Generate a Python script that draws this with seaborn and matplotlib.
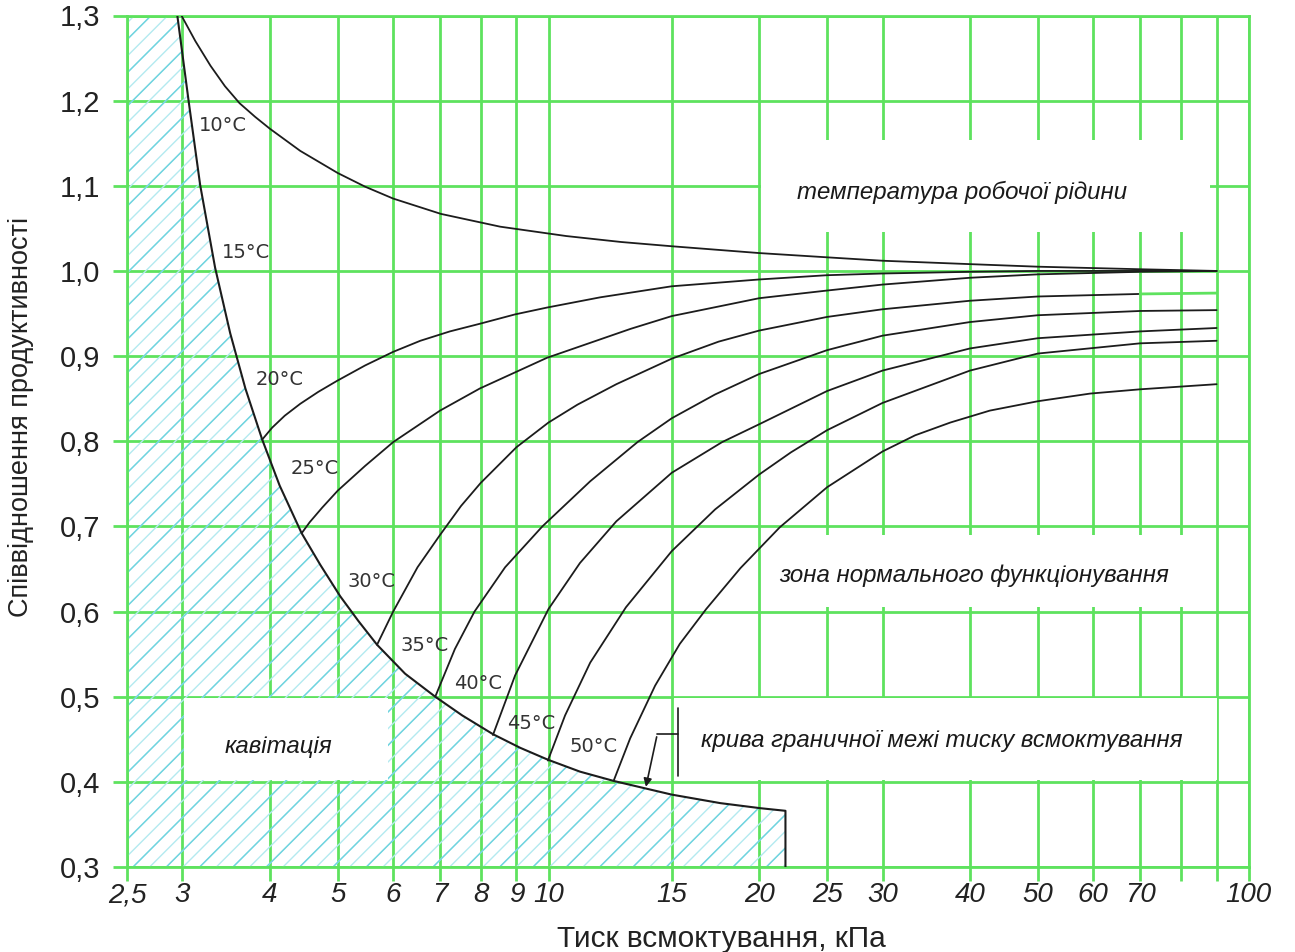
import numpy as np
import pandas as pd
import matplotlib
matplotlib.use("Agg")
import matplotlib.pyplot as plt
import seaborn as sns
from matplotlib.patches import Rectangle
from matplotlib.ticker import FixedLocator, FixedFormatter, NullLocator

# ---------------- data ----------------
x_ticks = [2.5, 3, 4, 5, 6, 7, 8, 9, 10, 15, 20, 25, 30, 40, 50, 60, 70, 80, 90, 100]
x_tick_labels = ["2,5", "3", "4", "5", "6", "7", "8", "9", "10", "15", "20", "25", "30",
                 "40", "50", "60", "70", "", "", "100"]
y_ticks = [0.3, 0.4, 0.5, 0.6, 0.7, 0.8, 0.9, 1.0, 1.1, 1.2, 1.3]
y_tick_labels = ["0,3", "0,4", "0,5", "0,6", "0,7", "0,8", "0,9", "1,0", "1,1", "1,2", "1,3"]

# suction-pressure limit curve (boundary of the cavitation zone)
boundary_p = [2.95, 3.06, 3.18, 3.34, 3.51, 3.69, 3.90, 4.13, 4.44, 4.72, 5.04, 5.35, 5.69,
              6.24, 6.89, 7.53, 8.33, 9.11, 9.98, 11.09, 12.4, 15.0, 17.6, 20.1, 21.8, 21.8]
boundary_k = [1.300, 1.201, 1.101, 1.004, 0.927, 0.862, 0.802, 0.748, 0.692, 0.655, 0.618,
              0.589, 0.561, 0.527, 0.500, 0.478, 0.456, 0.440, 0.426, 0.412, 0.401, 0.385,
              0.375, 0.369, 0.366, 0.300]

# temperature curves: suction pressure (kPa) and productivity ratio
t10_p = [2.99, 3.13, 3.29, 3.45, 3.62, 3.81, 4.00, 4.42, 5.0, 5.47, 6.0, 7.02, 8.53, 10.6,
         12.7, 15, 20, 25, 30, 40, 50, 70, 90]
t10_k = [1.300, 1.270, 1.241, 1.217, 1.197, 1.181, 1.167, 1.141, 1.115, 1.099, 1.085, 1.067,
         1.052, 1.041, 1.034, 1.029, 1.021, 1.016, 1.012, 1.008, 1.005, 1.002, 1.000]
t20_p = [3.90, 4.03, 4.20, 4.42, 4.69, 4.99, 5.47, 6.0, 6.56, 7.23, 7.98, 8.96, 9.95, 11.85,
         15, 20, 25, 30, 40, 50, 70, 90]
t20_k = [0.802, 0.816, 0.830, 0.844, 0.858, 0.871, 0.889, 0.905, 0.918, 0.929, 0.938, 0.949,
         0.957, 0.969, 0.982, 0.990, 0.995, 0.997, 0.999, 1.000, 1.000, 1.000]
t25_p = [4.44, 4.56, 4.75, 5.0, 5.47, 6.0, 7.0, 7.98, 9.95, 13.1, 15, 20, 25, 30, 40, 50, 70,
         90]
t25_k = [0.692, 0.705, 0.722, 0.742, 0.771, 0.799, 0.836, 0.862, 0.898, 0.932, 0.947, 0.968,
         0.977, 0.984, 0.992, 0.996, 0.999, 1.000]
t30_p = [5.69, 6.0, 6.5, 7.0, 7.5, 8.0, 9.0, 10, 11, 12.5, 15, 17.5, 20, 25, 30, 40, 50, 70]
t30_k = [0.561, 0.600, 0.652, 0.690, 0.724, 0.751, 0.793, 0.822, 0.843, 0.867, 0.897, 0.917,
         0.930, 0.946, 0.955, 0.965, 0.970, 0.973]
t30_tail_p = [70, 90]
t30_tail_k = [0.973, 0.974]
t35_p = [6.89, 7.35, 7.84, 8.67, 9.8, 11.47, 13.4, 15, 17.3, 20, 25, 30, 40, 50, 70, 90]
t35_k = [0.500, 0.556, 0.600, 0.652, 0.700, 0.753, 0.799, 0.827, 0.855, 0.879, 0.907, 0.924,
         0.940, 0.948, 0.953, 0.954]
t40_p = [8.33, 8.96, 10.0, 11.09, 12.5, 15, 17.7, 20, 25, 30, 40, 50, 70, 90]
t40_k = [0.455, 0.525, 0.603, 0.657, 0.706, 0.763, 0.799, 0.820, 0.859, 0.883, 0.909, 0.921,
         0.929, 0.933]
t45_p = [9.98, 10.56, 11.47, 12.9, 15, 17.3, 20, 22.2, 25, 30, 40, 50, 70, 90]
t45_k = [0.425, 0.478, 0.540, 0.605, 0.671, 0.720, 0.761, 0.787, 0.813, 0.845, 0.883, 0.903,
         0.915, 0.918]
t50_p = [12.4, 13.08, 14.2, 15.4, 16.8, 18.8, 21.4, 25, 30, 33.4, 37.5, 42.7, 50, 59.4, 70,
         90]
t50_k = [0.402, 0.451, 0.513, 0.562, 0.603, 0.651, 0.699, 0.746, 0.788, 0.807, 0.822, 0.836,
         0.847, 0.856, 0.861, 0.867]

temp_names = ["10°C", "20°C", "25°C", "30°C", "35°C", "40°C", "45°C", "50°C"]
temp_p = [t10_p, t20_p, t25_p, t30_p, t35_p, t40_p, t45_p, t50_p]
temp_k = [t10_k, t20_k, t25_k, t30_k, t35_k, t40_k, t45_k, t50_k]

label_names = ["10°C", "15°C", "20°C", "25°C", "30°C", "35°C", "40°C", "45°C", "50°C"]
label_p = [3.43, 3.70, 4.13, 4.63, 5.58, 6.66, 7.94, 9.44, 11.6]
label_k = [1.171, 1.022, 0.873, 0.768, 0.635, 0.560, 0.515, 0.469, 0.442]

# ---------------- styling ----------------
GRID = "#5ee25e"
HATCH = "#6fd4df"
HATCH_LIGHT = "#b3eaf0"
INK = "#1c1c1c"

sns.set_theme(style="white")
plt.rcParams["font.family"] = ["Liberation Sans", "DejaVu Sans"]
plt.rcParams["hatch.linewidth"] = 1.0

fig = plt.figure(figsize=(12.95, 9.52), dpi=100)
ax = fig.add_axes([127 / 1295, 1 - 867 / 952, 1121.6 / 1295, (867 - 15.5) / 952])
ax.set_xscale("log")
ax.set_xlim(2.5, 100)
ax.set_ylim(0.3, 1.3)

ax.xaxis.set_major_locator(FixedLocator(x_ticks))
ax.xaxis.set_major_formatter(FixedFormatter(x_tick_labels))
ax.xaxis.set_minor_locator(NullLocator())
ax.yaxis.set_major_locator(FixedLocator(y_ticks))
ax.yaxis.set_major_formatter(FixedFormatter(y_tick_labels))

ax.set_axisbelow(True)
ax.grid(True, color=GRID, linewidth=2.0)
for s in ax.spines.values():
    s.set_color(GRID)
    s.set_linewidth(2.0)
ax.tick_params(axis="both", which="major", direction="out", color=GRID, width=2.0,
               length=10, bottom=True, left=True)
ax.tick_params(axis="y", labelsize=21, pad=9, labelcolor="#222222")
ax.tick_params(axis="x", labelsize=20, pad=1, labelcolor="#222222")
for lab in ax.get_xticklabels():
    lab.set_fontstyle("italic")
    lab.set_family(["Liberation Sans Narrow", "Liberation Sans", "DejaVu Sans"])

# cavitation hatched area (light in-between lines + stronger main lines)
fill_p = [2.5] + boundary_p[:-1]
fill_k = [1.3] + boundary_k[:-1]
ax.fill_between(fill_p, 0.3, fill_k, facecolor="none", edgecolor=HATCH_LIGHT, hatch="//",
                linewidth=0, zorder=1)
ax.fill_between(fill_p, 0.3, fill_k, facecolor="none", edgecolor=HATCH, hatch="/",
                linewidth=0, zorder=1.1)

# white label boxes covering the grid
for (x0, x1, y0, y1) in [(20.1, 88.0, 1.046, 1.154), (20.5, 88.0, 0.605, 0.690),
                         (3.02, 5.9, 0.402, 0.498), (15.1, 90.0, 0.402, 0.498)]:
    ax.add_patch(Rectangle((x0, y0), x1 - x0, y1 - y0, facecolor="white",
                           edgecolor="none", zorder=1.5))

# temperature curves via seaborn
frames = []
for name, p, k in zip(temp_names, temp_p, temp_k):
    frames.append(pd.DataFrame({"p": p, "k": k, "t": name}))
df = pd.concat(frames, ignore_index=True)
sns.lineplot(data=df, x="p", y="k", hue="t", palette=[INK] * len(temp_names),
             estimator=None, sort=False, legend=False, linewidth=1.3, ax=ax, zorder=3)
sns.lineplot(x=t30_tail_p, y=t30_tail_k, color=GRID, linewidth=2.0, estimator=None,
             sort=False, ax=ax, zorder=3)
sns.lineplot(x=boundary_p, y=boundary_k, color=INK, linewidth=1.5, estimator=None,
             sort=False, ax=ax, zorder=3)

for name, p, k in zip(label_names, label_p, label_k):
    ax.text(p, k, name, fontsize=14, color="#333333", ha="center", va="center",
            family=["DejaVu Sans"], zorder=4)

# leader to the boundary curve
ax.plot([14.3, 15.3], [0.456, 0.456], color=INK, lw=1.2, zorder=4)
ax.plot([15.3, 15.3], [0.407, 0.487], color=INK, lw=1.2, zorder=4)
ax.annotate("", xy=(13.75, 0.391), xytext=(14.3, 0.456),
            arrowprops=dict(arrowstyle="-|>", color=INK, lw=1.2, mutation_scale=12),
            zorder=4)

txt_kw = dict(fontsize=17.3, fontstyle="italic", color="#1a1a1a", ha="center",
              va="center", zorder=4)
ax.text(39.0, 1.092, "температура робочої рідини", **txt_kw)
ax.text(40.6, 0.642, "зона нормального функціонування", **txt_kw)
ax.text(4.11, 0.442, "кавітація", **txt_kw)
ax.text(36.4, 0.448, "крива граничної межі тиску всмоктування", **txt_kw)

ax.set_xlabel("Тиск всмоктування, кПа", fontsize=21.5, color="#222222")
ax.xaxis.set_label_coords(0.53, -0.068)
ax.set_ylabel("Співвідношення продуктивності", fontsize=19.5, color="#222222")
ax.yaxis.set_label_coords(-0.083, 0.528)

fig.savefig("out.png", dpi=100, facecolor="white")
